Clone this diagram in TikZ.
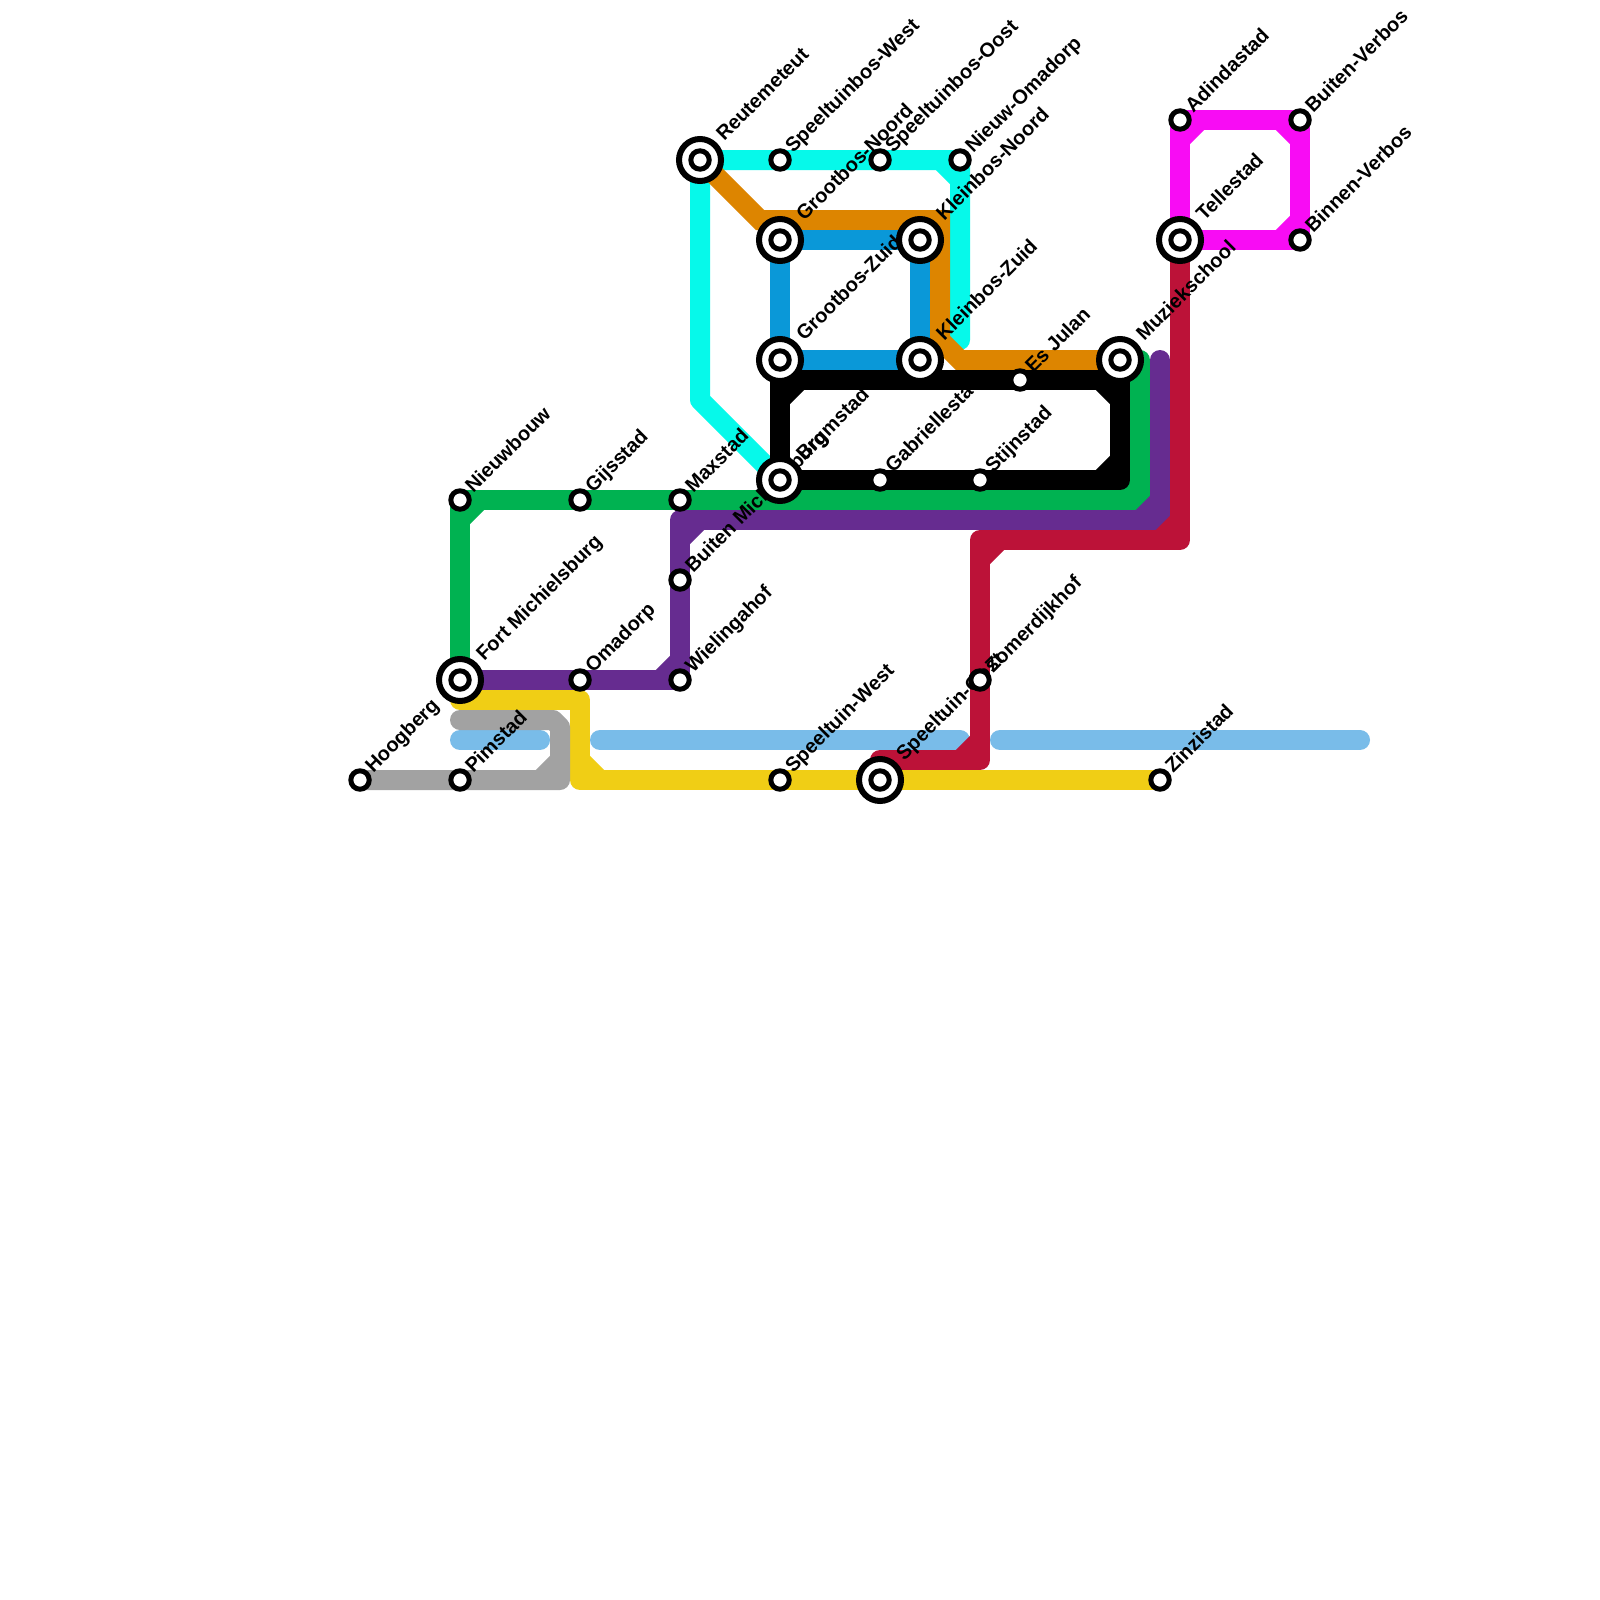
\documentclass[tikz,border=0pt]{standalone}
\usepackage{fontspec}
\setmainfont{Liberation Sans}
\definecolor{cCyan}{HTML}{06F9EA}
\definecolor{cOrange}{HTML}{DD8500}
\definecolor{cBlue}{HTML}{0A98D8}
\definecolor{cGreen}{HTML}{00B251}
\definecolor{cPurple}{HTML}{662C90}
\definecolor{cRed}{HTML}{BC1238}
\definecolor{cYellow}{HTML}{F0CE15}
\definecolor{cGray}{HTML}{A2A2A2}
\definecolor{cSky}{HTML}{79BCE9}
\definecolor{cMag}{HTML}{F80CF4}
\tikzset{
  x=0.5pt,y=-0.5pt,
  mline/.style={line width=10pt,line cap=round,line join=round},
  mmiter/.style={line width=10pt,line cap=round,line join=miter},
  chord/.style={line width=10pt,line cap=butt},
  lab/.style={rotate=45,anchor=base west,inner sep=0pt,font=\fontsize{10}{12}\selectfont\bfseries,text=black},
  st/.style={circle,draw=black,fill=white,line width=2.5pt,minimum size=9.2pt,inner sep=0pt,outer sep=0pt},
  big/.style={circle,draw=black,fill=white,line width=3pt,minimum size=21pt,inner sep=0pt,outer sep=0pt},
}
\begin{document}
\begin{tikzpicture}
\useasboundingbox (0,0) rectangle (1600,1600);
\fill[white] (0,0) rectangle (1600,1600);
% coordinates of the stations
\foreach \n/\x/\y in {reu/700/160,swe/780/160,soo/880/160,nom/960/160,gno/780/240,kno/920/240,gzu/780/360,kzu/920/360,
  esj/1020/380,muz/1120/360,bru/780/480,gab/880/480,sti/980/480,nie/460/500,gij/580/500,max/680/500,bmi/680/580,
  frt/460/680,oma/580/680,wie/680/680,zom/980/680,hoo/360/780,pim/460/780,swt/780/780,soz/880/780,zin/1160/780,
  adi/1180/120,bve/1300/120,tel/1180/240,bin/1300/240}
  {\coordinate (\n) at (\x,\y);}
% sky line
\draw[mline,cSky] (460,740)--(540,740);
\draw[mline,cSky] (600,740)--(960,740);
\draw[mline,cSky] (1000,740)--(1360,740);
% cyan
\draw[mline,cCyan] (bru)--(700,400)--(reu)--(nom)--(960,340);
\draw[chord,cCyan] (940,160)--(960,180);
% orange
\draw[mmiter,cOrange] (reu)--(760,220)--(940,220)--(940,340)--(960,360)--(muz);
% blue
\draw[mline,cBlue] (gno)--(kno)--(kzu)--(gzu)--cycle;
% green
\draw[mline,cGreen] (frt)--(nie)--(1140,500)--(1140,360);
\draw[chord,cGreen] (460,520)--(480,500);
\draw[chord,cGreen] (1120,500)--(1140,480);
% black
\draw[mline,black] (gzu)--(bru)--(1120,480)--(1120,380)--(780,380);
\draw[chord,black] (780,400)--(800,380);
\draw[chord,black] (1100,380)--(1120,400);
\draw[chord,black] (1100,480)--(1120,460);
% purple
\draw[mline,cPurple] (frt)--(wie)--(680,520)--(1160,520)--(1160,360);
\draw[chord,cPurple] (660,680)--(680,660);
\draw[chord,cPurple] (680,540)--(700,520);
\draw[chord,cPurple] (1140,520)--(1160,500);
% yellow
\draw[mline,cYellow] (460,700)--(580,700)--(580,780)--(zin);
\draw[chord,cYellow] (580,760)--(600,780);
% gray
\draw[mline,cGray] (460,720)--(553,720)--(560,727)--(560,780)--(hoo);
\draw[chord,cGray] (540,780)--(560,760);
% red
\draw[mline,cRed] (tel)--(1180,540)--(980,540)--(980,760)--(880,760);
\draw[chord,cRed] (1160,540)--(1180,520);
\draw[chord,cRed] (980,560)--(1000,540);
\draw[chord,cRed] (960,760)--(980,740);
% magenta
\draw[mline,cMag] (adi)--(bve)--(bin)--(tel)--cycle;
\draw[chord,cMag] (1180,140)--(1200,120);
\draw[chord,cMag] (1280,120)--(1300,140);
\draw[chord,cMag] (1280,240)--(1300,220);
% labels
\foreach \n/\t in {swe/Speeltuinbos-West,soo/Speeltuinbos-Oost,nom/Nieuw-Omadorp,esj/Es Julan,gab/Gabriellestad,sti/Stijnstad,
  nie/Nieuwbouw,gij/Gijsstad,max/Maxstad,bmi/Buiten Michielsburg,oma/Omadorp,wie/Wielingahof,zom/Zomerdijkhof,
  hoo/Hoogberg,pim/Pimstad,swt/Speeltuin-West,zin/Zinzistad,adi/Adindastad,bve/Buiten-Verbos,bin/Binnen-Verbos}
  {\node[lab] (l\n) at ([shift={(13,-6)}]\n) {\t};}
\foreach \n/\t in {reu/Reutemeteut,gno/Grootbos-Noord,kno/Kleinbos-Noord,gzu/Grootbos-Zuid,kzu/Kleinbos-Zuid,muz/Muziekschool,
  bru/Brgmstad,frt/Fort Michielsburg,soz/Speeltuin-Oost,tel/Tellestad}
  {\node[lab] (l\n) at ([shift={(24,-18)}]\n) {\t};}
% stations
\foreach \n in {swe,soo,nom,esj,gab,sti,nie,gij,max,bmi,oma,wie,zom,hoo,pim,swt,zin,adi,bve,bin}
  {\node[st] (s\n) at (\n) {};}
\foreach \n in {reu,gno,kno,gzu,kzu,muz,bru,frt,soz,tel}
  {\node[big] (b\n) at (\n) {};\node[st] (s\n) at (\n) {};}
\end{tikzpicture}
\end{document}
